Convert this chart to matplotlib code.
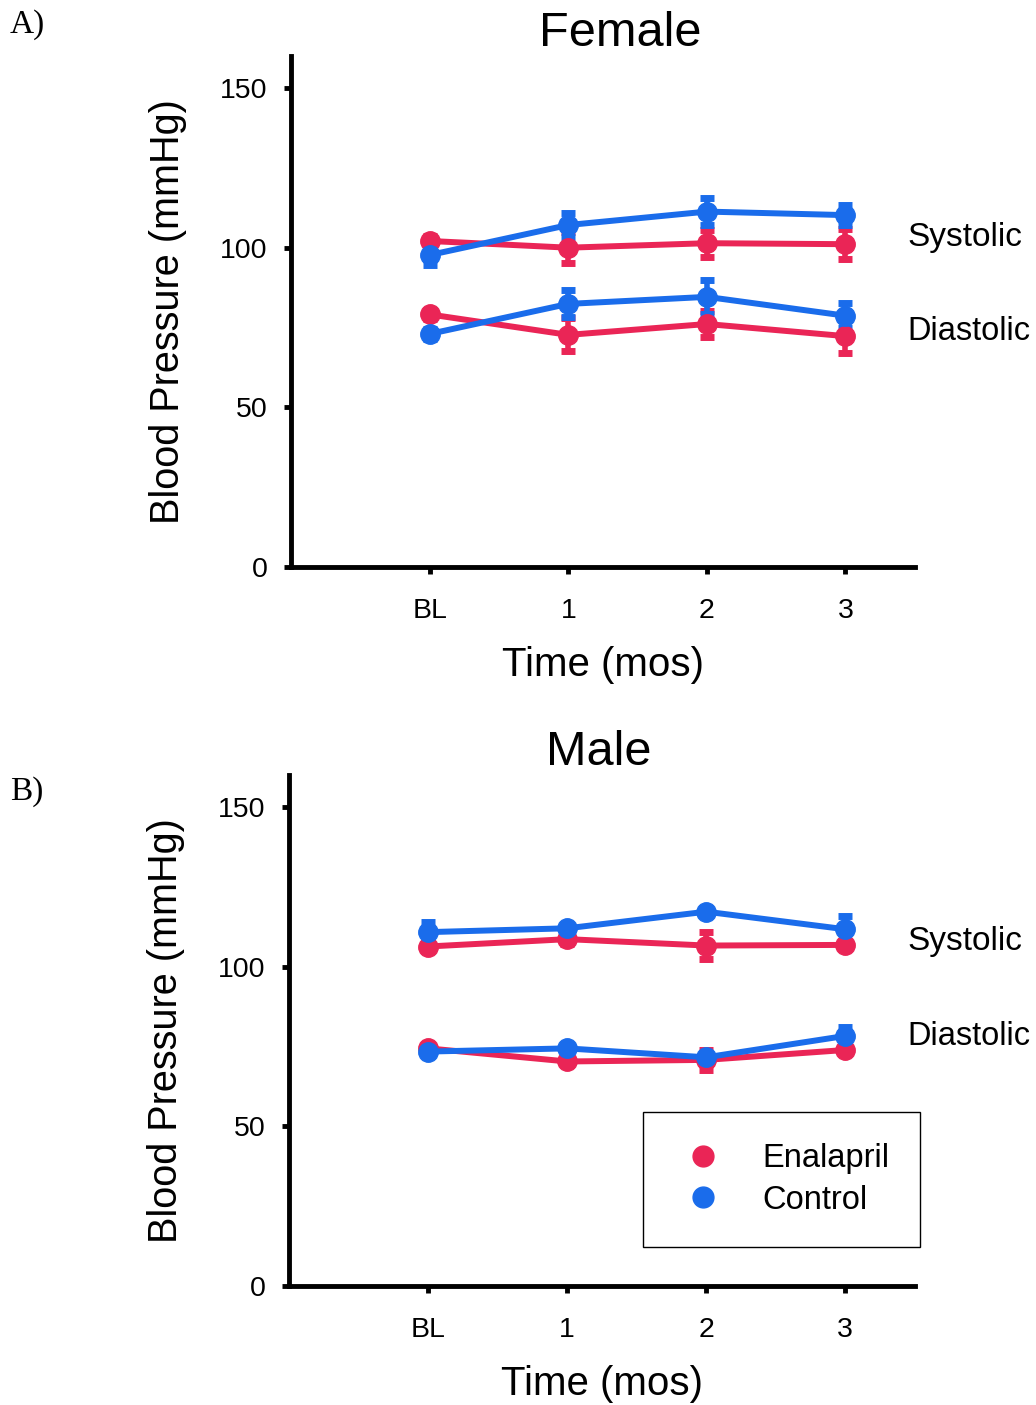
import matplotlib.pyplot as plt
import numpy as np

plt.rcParams['font.family'] = ['Liberation Sans', 'DejaVu Sans']

# ---- data (mmHg, mean +/- SEM)
timepoints = ["BL", "1", "2", "3"]

# Female
f_enal_sys = [102.1, 100.0, 101.4, 101.1]
f_enal_sys_err = [1.5, 4.9, 4.2, 4.7]
f_ctrl_sys = [97.7, 107.1, 111.3, 110.2]
f_ctrl_sys_err = [3.1, 3.7, 4.2, 3.1]
f_enal_dia = [79.1, 72.7, 76.1, 72.3]
f_enal_dia_err = [1.5, 5.2, 4.0, 5.2]
f_ctrl_dia = [73.0, 82.4, 84.6, 78.7]
f_ctrl_dia_err = [1.5, 4.2, 5.3, 3.9]

# Male
m_enal_sys = [106.3, 108.6, 106.6, 106.8]
m_enal_sys_err = [1.5, 1.5, 4.2, 1.0]
m_ctrl_sys = [110.8, 112.0, 117.2, 111.7]
m_ctrl_sys_err = [3.3, 1.0, 1.0, 4.0]
m_enal_dia = [74.4, 70.3, 70.8, 73.9]
m_enal_dia_err = [1.0, 1.0, 3.1, 1.0]
m_ctrl_dia = [73.4, 74.4, 71.6, 78.3]
m_ctrl_dia_err = [1.0, 1.0, 1.0, 2.9]

RED = '#EA2556'
BLUE = '#1A6CEB'

x = np.arange(len(timepoints))

fig = plt.figure(figsize=(10.36, 14.05), dpi=100)
ax1 = fig.add_axes([0.281, 0.5964, 0.602, 0.3637])
ax2 = fig.add_axes([0.279, 0.0847, 0.604, 0.3637])


def draw(ax, series, title, title_x, lab_y):
    for vals, errs, col in series:
        ax.errorbar(x, vals, yerr=errs, color=col, marker='o', markersize=14,
                    linewidth=4.3, elinewidth=4, capsize=5, capthick=5,
                    clip_on=False, zorder=3)
    ax.set_xlim(-1, 3.5)
    ax.set_ylim(0, 160)
    ax.set_xticks(x)
    ax.set_xticklabels(timepoints)
    ax.set_yticks([0, 50, 100, 150])
    for s in ['top', 'right']:
        ax.spines[s].set_visible(False)
    for s in ['left', 'bottom']:
        ax.spines[s].set_linewidth(3.5)
    ax.tick_params(axis='both', direction='out', length=5, width=3.5,
                   labelsize=20.5)
    ax.tick_params(axis='x', pad=17)
    ax.tick_params(axis='y', pad=12)
    ax.set_xlabel("Time (mos)", fontsize=29, labelpad=16)
    ax.set_ylabel("Blood Pressure (mmHg)", fontsize=28.5, labelpad=24)
    ax.set_title(title, fontsize=35, x=title_x, pad=4)
    ax.text(3.45, lab_y[0], "Systolic", fontsize=24, va='center', ha='left',
            clip_on=False)
    ax.text(3.45, lab_y[1], "Diastolic", fontsize=23.5, va='center', ha='left',
            clip_on=False)


draw(ax1, [(f_enal_sys, f_enal_sys_err, RED), (f_enal_dia, f_enal_dia_err, RED),
           (f_ctrl_sys, f_ctrl_sys_err, BLUE), (f_ctrl_dia, f_ctrl_dia_err, BLUE)],
     "Female", 0.527, (103.3, 73.6))
draw(ax2, [(m_enal_sys, m_enal_sys_err, RED), (m_enal_dia, m_enal_dia_err, RED),
           (m_ctrl_sys, m_ctrl_sys_err, BLUE), (m_ctrl_dia, m_ctrl_dia_err, BLUE)],
     "Male", 0.495, (108, 78))

# legend with marker-only handles
h1, = ax2.plot([], [], 'o', color=RED, markersize=15, label="Enalapril")
h2, = ax2.plot([], [], 'o', color=BLUE, markersize=15, label="Control")
leg = ax2.legend(handles=[h1, h2], loc='upper left', bbox_to_anchor=(0.5655, 0.3405),
                 borderaxespad=0, fontsize=23.5, frameon=True, fancybox=False,
                 edgecolor='black', framealpha=1, borderpad=0.95, labelspacing=0.33,
                 handlelength=1.8, handletextpad=0.9)
leg.get_frame().set_linewidth(1.0)

fig.text(10 / 1036, 1 - 33 / 1405, "A)", family='Liberation Serif', fontsize=24,
         va='baseline')
fig.text(10 / 1036, 1 - 800 / 1405, "B)", family='Liberation Serif', fontsize=24,
         va='baseline')

fig.savefig("out.png", dpi=100)
